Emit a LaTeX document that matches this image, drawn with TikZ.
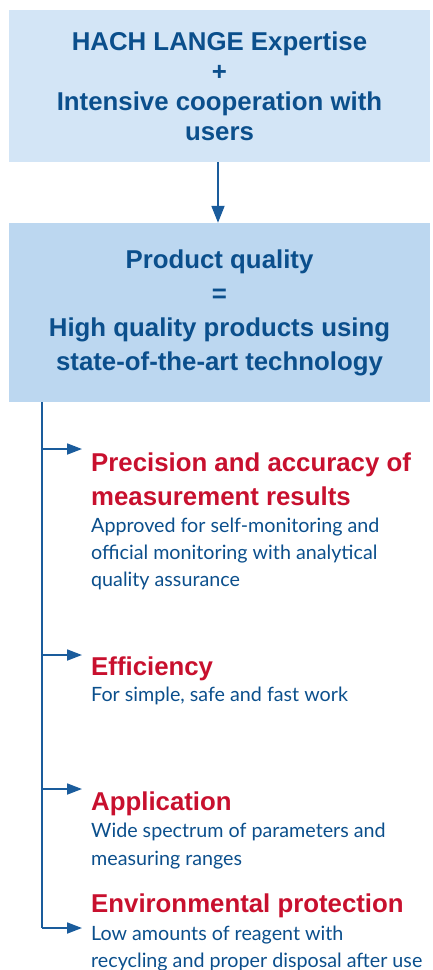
\documentclass[tikz,border=0pt]{standalone}
\usepackage{fontspec}
\setmainfont{Liberation Sans}
\newfontfamily\descfont{Lato}
\usetikzlibrary{arrows.meta}
\definecolor{hblue}{HTML}{0B4F8C}
\definecolor{lineblue}{HTML}{1A5C9C}
\definecolor{boxone}{HTML}{D3E5F6}
\definecolor{boxtwo}{HTML}{BCD7F0}
\definecolor{hred}{HTML}{C8102E}
\tikzset{
  bigbox/.style={inner sep=0pt, minimum width=421pt, align=center, text=hblue,
    font=\fontsize{25.8}{30}\selectfont\bfseries},
  ttl/.style={anchor=base west, inner sep=0pt, text=hred, font=\fontsize{25.8}{30}\selectfont\bfseries},
  dsc/.style={anchor=base west, inner sep=0pt, text=hblue, font=\descfont\fontsize{19.7}{24}\selectfont},
  conn/.style={draw=lineblue, line width=1.8pt},
  arr/.style={conn, -{Triangle[length=15pt,width=11pt]}},
  darr/.style={conn, -{Triangle[length=17pt,width=13pt]}}
}
\begin{document}
\begin{tikzpicture}[x=1pt,y=1pt]
\useasboundingbox (0,0) rectangle (432,-970);
\node[bigbox, fill=boxone, minimum height=152pt] (top) at (219.5,-86)
  {HACH LANGE Expertise\\+\\Intensive cooperation with\\users};
\node[bigbox, fill=boxtwo, minimum height=179pt, font=\fontsize{25.8}{34}\selectfont\bfseries] (qual) at (219.5,-312.5)
  {Product quality\\=\\High quality products using\\state-of-the-art technology};
\draw[darr] (top.south -| 218,0) -- (qual.north -| 218,0);
% trunk
\coordinate (tend) at (42,-928);
\coordinate (j1) at (42,-449);
\coordinate (j2) at (42,-655);
\coordinate (j3) at (42,-789);
\coordinate (e1) at (82,-449);
\coordinate (e2) at (82,-655);
\coordinate (e3) at (82,-789);
\coordinate (e4) at (82,-928);
\draw[conn] (qual.south -| tend) -- (tend);
\draw[arr] (j1) -- (e1);
\draw[arr] (j2) -- (e2);
\draw[arr] (j3) -- (e3);
\draw[arr] (tend) -- (e4);
% items
\node[ttl] (t1a) at (91,-471.5) {Precision and accuracy of};
\node[ttl] (t1b) at (91,-505) {measurement results};
\node[dsc] (d1a) at (91,-532) {Approved for self-monitoring and};
\node[dsc] (d1b) at (91,-559) {official monitoring with analytical};
\node[dsc] (d1c) at (91,-586) {quality assurance};
\node[ttl] (t2) at (91,-675) {Efficiency};
\node[dsc] (d2) at (91,-701) {For simple, safe and fast work};
\node[ttl] (t3) at (91,-810) {Application};
\node[dsc] (d3a) at (91,-837) {Wide spectrum of parameters and};
\node[dsc] (d3b) at (91,-865) {measuring ranges};
\node[ttl] (t4) at (91,-912) {Environmental protection};
\node[dsc] (d4a) at (91,-940) {Low amounts of reagent with};
\node[dsc] (d4b) at (91,-967) {recycling and proper disposal after use};
\end{tikzpicture}
\end{document}
